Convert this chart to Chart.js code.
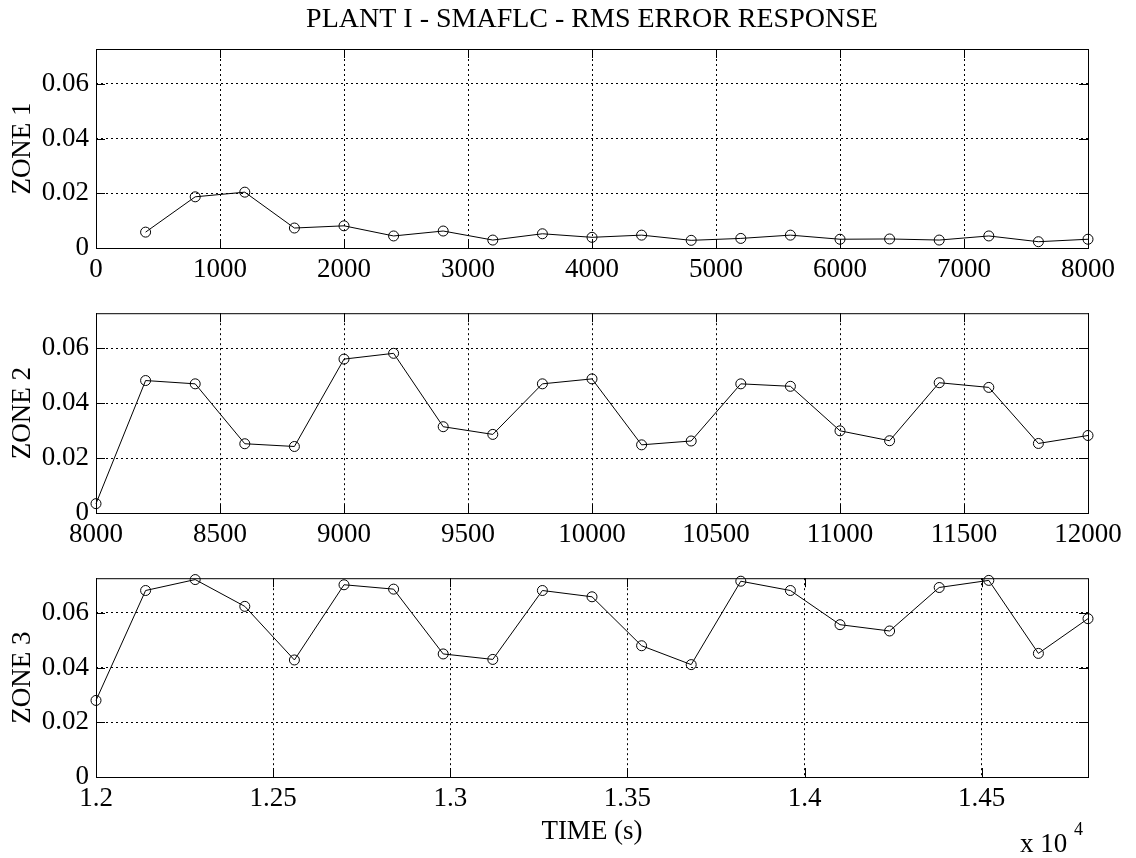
<!DOCTYPE html>
<html>
<head>
<meta charset="utf-8">
<title>PLANT I - SMAFLC - RMS ERROR RESPONSE</title>
<script src="https://cdn.jsdelivr.net/npm/chart.js"></script>
<style>
  body { margin: 0; background: #fff; }
  #wrap { position: relative; width: 1136px; height: 858px; }
  canvas { position: absolute; left: 0; }
</style>
</head>
<body>
<div id="wrap">
  <canvas id="zone1Chart" width="1136" height="290" style="top:0px"></canvas>
  <canvas id="zone2Chart" width="1136" height="265" style="top:290px"></canvas>
  <canvas id="zone3Chart" width="1136" height="303" style="top:555px"></canvas>
</div>
<script>
const titleText = "PLANT I - SMAFLC - RMS ERROR RESPONSE";
const xTitleText = "TIME (s)";

const zone1Times = [400, 800, 1200, 1600, 2000, 2400, 2800, 3200, 3600, 4000, 4400, 4800, 5200, 5600, 6000, 6400, 6800, 7200, 7600, 8000];
const zone1Errors = [0.0058, 0.0187, 0.0204, 0.0073, 0.0081, 0.0044, 0.0062, 0.0029, 0.0052, 0.0039, 0.0047, 0.0028, 0.0035, 0.0047, 0.0032, 0.0033, 0.0029, 0.0044, 0.0023, 0.0032];

const zone2Times = [8000, 8200, 8400, 8600, 8800, 9000, 9200, 9400, 9600, 9800, 10000, 10200, 10400, 10600, 10800, 11000, 11200, 11400, 11600, 11800, 12000];
const zone2Errors = [0.0034, 0.0482, 0.0470, 0.0252, 0.0242, 0.0560, 0.0581, 0.0314, 0.0286, 0.0470, 0.0488, 0.0248, 0.0262, 0.0470, 0.0461, 0.0299, 0.0263, 0.0474, 0.0457, 0.0253, 0.0282];

const zone3Times = [12000, 12140, 12280, 12420, 12560, 12700, 12840, 12980, 13120, 13260, 13400, 13540, 13680, 13820, 13960, 14100, 14240, 14380, 14520, 14660, 14800];
const zone3Errors = [0.0280, 0.0682, 0.0722, 0.0624, 0.0428, 0.0703, 0.0687, 0.0450, 0.0430, 0.0682, 0.0659, 0.0480, 0.0411, 0.0716, 0.0682, 0.0557, 0.0534, 0.0693, 0.0719, 0.0452, 0.0579];

const zone1XTicks = [0, 1000, 2000, 3000, 4000, 5000, 6000, 7000, 8000];
const zone2XTicks = [8000, 8500, 9000, 9500, 10000, 10500, 11000, 11500, 12000];
const zone3XTicks = [12000, 12500, 13000, 13500, 14000, 14500];
const zone3XLabels = ["1.2", "1.25", "1.3", "1.35", "1.4", "1.45"];
const yTicks = [0, 0.02, 0.04, 0.06];
const yLabels = ["0", "0.02", "0.04", "0.06"];
const yMax = 0.0727;

const fontFamily = "'Liberation Serif', 'DejaVu Serif', serif";
const fontSize = 27;

// solid box round the axes plus short inward ticks, like matlab draws them
const boxPlugin = {
  id: "box",
  afterDraw(chart) {
    const { ctx, chartArea: a, scales } = chart;
    const len = 9;
    ctx.save();
    ctx.strokeStyle = "#000";
    ctx.lineWidth = 1;
    ctx.strokeRect(a.left + 0.5, a.top + 0.5, a.right - a.left, a.bottom - a.top);
    ctx.beginPath();
    scales.y.ticks.forEach((t) => {
      const y = Math.round(scales.y.getPixelForValue(t.value)) + 0.5;
      ctx.moveTo(a.left, y);
      ctx.lineTo(a.left + len, y);
      ctx.moveTo(a.right, y);
      ctx.lineTo(a.right - len, y);
    });
    scales.x.ticks.forEach((t) => {
      const x = Math.round(scales.x.getPixelForValue(t.value)) + 0.5;
      ctx.moveTo(x, a.bottom);
      ctx.lineTo(x, a.bottom - len);
      ctx.moveTo(x, a.top);
      ctx.lineTo(x, a.top + len);
    });
    ctx.stroke();
    ctx.restore();
  },
};

// figure title, centred over the plot box rather than the canvas
const titlePlugin = {
  id: "figTitle",
  afterDraw(chart) {
    const { ctx, chartArea: a } = chart;
    ctx.save();
    ctx.fillStyle = "#000";
    ctx.textAlign = "center";
    ctx.textBaseline = "middle";
    ctx.font = `28px ${fontFamily}`;
    ctx.fillText(titleText, (a.left + a.right) / 2, 20);
    ctx.restore();
  },
};

const exponentPlugin = {
  id: "exponent",
  afterDraw(chart) {
    const { ctx } = chart;
    ctx.save();
    ctx.fillStyle = "#000";
    ctx.textBaseline = "alphabetic";
    ctx.textAlign = "left";
    ctx.font = `${fontSize}px ${fontFamily}`;
    ctx.fillText("x 10", 1020, 297);
    ctx.font = `18px ${fontFamily}`;
    ctx.fillText("4", 1074, 280);
    ctx.restore();
  },
};

const makeChart = (id, times, errors, xTicks, xLabels, range, zoneName, opts) => {
  const ctx = document.getElementById(id).getContext("2d");
  return new Chart(ctx, {
    type: "line",
    data: {
      datasets: [{
        data: times.map((t, i) => ({ x: t, y: errors[i] })),
        borderColor: "#000",
        borderWidth: 1,
        backgroundColor: "rgba(0,0,0,0)",
        pointRadius: 5,
        pointBorderWidth: 1,
        pointBorderColor: "#000",
        pointBackgroundColor: "rgba(0,0,0,0)",
        tension: 0,
        clip: false,
      }],
    },
    options: {
      responsive: false,
      animation: false,
      events: [],
      layout: { padding: { top: opts.padTop, right: 48, left: 0, bottom: 0 } },
      plugins: {
        legend: { display: false },
        tooltip: { enabled: false },
        title: { display: false },
      },
      scales: {
        x: {
          type: "linear",
          min: range[0],
          max: range[1],
          afterBuildTicks: (s) => { s.ticks = xTicks.map((v) => ({ value: v })); },
          afterFit: (s) => { s.height = opts.xHeight; },
          grid: { color: "#000", lineWidth: 1, drawTicks: false, borderDash: [2, 3] },
          border: { display: false, dash: [2, 3] },
          ticks: {
            color: "#000",
            padding: 6,
            maxRotation: 0,
            autoSkip: false,
            font: { family: fontFamily, size: fontSize },
            callback: (v, i) => xLabels[i],
          },
          title: opts.xTitle
            ? {
                display: true,
                text: xTitleText,
                color: "#000",
                font: { family: fontFamily, size: fontSize, lineHeight: 1.2 },
                padding: { top: 0, bottom: 10 },
              }
            : { display: false },
        },
        y: {
          type: "linear",
          min: 0,
          max: yMax,
          afterBuildTicks: (s) => { s.ticks = yTicks.map((v) => ({ value: v })); },
          afterFit: (s) => { s.width = 96; },
          grid: { color: "#000", lineWidth: 1, drawTicks: false, borderDash: [2, 3] },
          border: { display: false, dash: [2, 3] },
          ticks: {
            color: "#000",
            padding: 7,
            autoSkip: false,
            font: { family: fontFamily, size: fontSize },
            callback: (v, i) => yLabels[i],
          },
          title: {
            display: true,
            text: zoneName,
            color: "#000",
            font: { family: fontFamily, size: fontSize, lineHeight: 1.2 },
            padding: { top: 7, bottom: 0 },
          },
        },
      },
    },
    plugins: opts.extra ? [boxPlugin, opts.extra] : [boxPlugin],
  });
};

const zone1Chart = makeChart("zone1Chart", zone1Times, zone1Errors, zone1XTicks,
  zone1XTicks.map(String), [0, 8000], "ZONE 1",
  { padTop: 49, xHeight: 42, xTitle: false, extra: titlePlugin });

const zone2Chart = makeChart("zone2Chart", zone2Times, zone2Errors, zone2XTicks,
  zone2XTicks.map(String), [8000, 12000], "ZONE 2",
  { padTop: 23, xHeight: 42, xTitle: false, extra: null });

const zone3Chart = makeChart("zone3Chart", zone3Times, zone3Errors, zone3XTicks,
  zone3XLabels, [12000, 14800], "ZONE 3",
  { padTop: 22, xHeight: 81, xTitle: true, extra: exponentPlugin });
</script>
</body>
</html>
